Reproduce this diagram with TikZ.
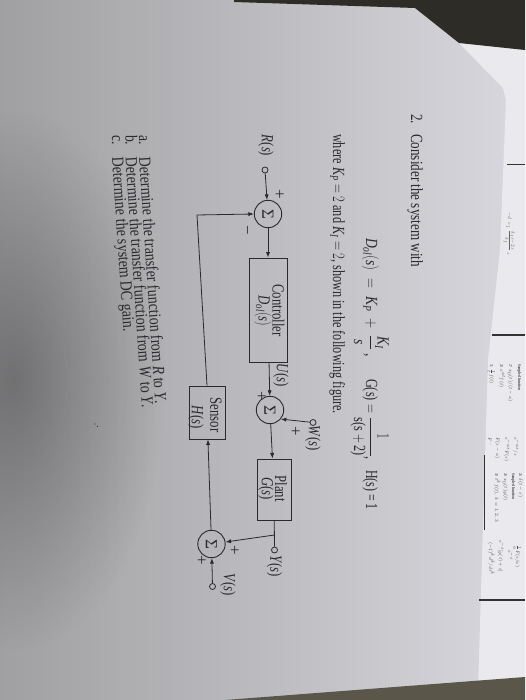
\documentclass[tikz,border=0pt]{standalone}
\usepackage{amsmath}
\usepackage{fontspec}
\setmainfont{Liberation Serif}
\usetikzlibrary{arrows.meta,fadings}
\definecolor{ink}{RGB}{42,42,46}
\definecolor{pageL}{RGB}{160,160,162}
\definecolor{pageR}{RGB}{216,216,222}
\definecolor{sheetc}{RGB}{234,234,238}
\definecolor{deskA}{RGB}{46,44,38}
\definecolor{deskB}{RGB}{90,86,74}
\newcommand{\ti}[1]{\textit{#1}}
\tikzfading[name=softblob, inner color=transparent!0, outer color=transparent!100]
\begin{document}
\begin{tikzpicture}[x=1pt,y=1pt,
  txt/.style={font=\fontsize{17}{20}\selectfont, text=ink, inner sep=0pt},
  tiny/.style={font=\fontsize{4.4}{5}\selectfont, text=black!70, inner sep=0pt, anchor=base west, xscale=0.8},
  blk/.style={draw=ink, line width=0.9pt, rectangle, inner sep=0pt},
  sumn/.style={draw=ink, line width=0.9pt, circle, minimum size=27.4pt, inner sep=0pt, font=\fontsize{17}{20}\selectfont, text=ink},
  port/.style={draw=ink, line width=0.8pt, circle, minimum size=6pt, inner sep=0pt},
  wire/.style={draw=ink, line width=0.8pt},
  sig/.style={wire, -{Latex[length=5.5pt,width=4.2pt]}},
  rulel/.style={draw=black!80, line width=0.7pt}
]
\useasboundingbox (0,0) rectangle (525,-700);
% ---- photo background ----
\shade[left color=pageL, right color=pageR] (0,0) rectangle (525,-700);
\fill[black, opacity=0.3, path fading=softblob] (15,-380) ellipse (150 and 270);
\fill[sheetc] (459,-43) -- (503,-88) -- (506,-100) -- (500,-250) -- (488,-360) -- (478,-690) -- (525,-690) -- (525,-50) -- cycle;
\fill[deskA] (234,0) -- (525,0) -- (525,-50) -- (459,-43) -- (415,-8) -- (234,-2) -- cycle;
\fill[deskB] (225,-700) -- (525,-677) -- (525,-700) -- cycle;

\begin{scope}[rotate=-90, transform shape]
% ---- text ----
\node[txt, anchor=base west, xscale=0.77] (num) at (114,411) {2.};
\node[txt, anchor=base west, xscale=0.77] (intro) at (134,411) {Consider the system with};
\node[txt, anchor=base west, xscale=0.8] (eqD) at (238,366) {$\ti{D}_{\ti{ol}}(\ti{s})\;=\;\ti{K}_{\ti{P}}\;+\;\dfrac{\ti{K}_{\ti{I}}}{\ti{s}}$\hspace{0.3em},};
\node[txt, anchor=base west, xscale=0.72] (eqG) at (379,366) {$\text{G(s)} = \dfrac{1}{\text{s(s}+\text{2)}}$,};
\node[txt, anchor=base west, xscale=0.7] (eqH) at (470,366) {H(s) = 1};
\node[txt, anchor=base west, xscale=0.72] (where) at (134,333) {where $\ti{K}_{\ti{P}} = 2$ and $\ti{K}_{\ti{I}} = 2$, shown in the following figure.};

\node[txt, anchor=base west, xscale=0.8] (qa0) at (135,139) {a.};
\node[txt, anchor=base west, rotate=3.8, xscale=0.82] (qa) at (157,139) {Determine the transfer function from \ti{R} to \ti{Y}.};
\node[txt, anchor=base west, xscale=0.8] (qb0) at (135,125.5) {b.};
\node[txt, anchor=base west, rotate=3.8, xscale=0.82] (qb) at (157,125.5) {Determine the transfer function from \ti{W} to \ti{Y}.};
\node[txt, anchor=base west, xscale=0.8] (qc0) at (135,112) {c.};
\node[txt, anchor=base west, rotate=3.8, xscale=0.82] (qc) at (157,112) {Determine the system DC gain.};

% ---- block diagram ----
\node[txt, xscale=0.75] (rlab) at (145.6,266) {\ti{R}(\ti{s})};
\node[port] (rin) at (170,265) {};
\node[sumn] (s1) at (214,268) {Σ};
\node[txt] (p1) at (194,279) {+};
\node[txt] (m1) at (230,245) {−};
\node[blk, minimum width=104pt, minimum height=38pt] (ctrl) at (310,268) {};
\node[txt, xscale=0.75] (ctrlA) at (310.5,278.5) {Controller};
\node[txt, xscale=0.75] (ctrlB) at (311,263) {$\ti{D}_{\ti{ol}}(\ti{s})$};
\node[txt, xscale=0.75] (ulab) at (375.5,281) {\ti{U}(\ti{s})};
\node[txt] (p2) at (396,261) {+};
\node[sumn] (s2) at (410,270) {Σ};
\node[port] (win) at (422.5,313) {};
\node[txt, xscale=0.75] (wlab) at (438.5,313) {\ti{W}(\ti{s})};
\node[txt] (p3) at (431,295) {+};
\node[blk, minimum width=61pt, minimum height=34pt] (plant) at (489.5,274) {};
\node[txt, xscale=0.75] (plA) at (488.5,281) {Plant};
\node[txt, xscale=0.75] (plB) at (488.5,266) {\ti{G}(\ti{s})};
\node[port] (yout) at (550,274.5) {};
\node[txt, xscale=0.75] (ylab) at (566,274.5) {\ti{Y}(\ti{s})};
\coordinate (br) at (535,274.5);
\node[sumn] (s3) at (544,211.5) {Σ};
\node[txt] (p4) at (550,234) {+};
\node[txt] (p5) at (560,201) {+};
\node[port] (vin) at (586.5,212.5) {};
\node[txt, xscale=0.75] (vlab) at (584.5,228) {\ti{V}(\ti{s})};
\node[blk, minimum width=53pt, minimum height=36pt] (sens) at (412.5,207) {};
\node[txt, xscale=0.75] (sA) at (415,216) {Sensor};
\node[txt, xscale=0.75] (sB) at (417,196) {\ti{H}(\ti{s})};
\coordinate (fbc) at (215,197);

\draw[sig] (rin) -- (s1);
\draw[sig] (s1) -- (ctrl);
\draw[sig] (ctrl) -- (s2);
\draw[sig] (win) -- (s2.50);
\draw[sig] (s2) -- (plant);
\draw[wire] (plant) -- (yout);
\draw[sig] (br) -- (s3);
\draw[sig] (vin) -- (s3);
\draw[sig] (s3) -- (sens);
\draw[sig] (sens.west) -- (fbc) -- (s1.south);

% ---- specks ----
\fill[ink] (424,95) circle (0.7);
\fill[ink] (426.5,97.5) circle (0.7);

% ---- table sheet fragments ----
\draw[rulel] (164,507) -- (164,525);
\draw[rulel, line width=1.6pt] (335,492) -- (335,525);
\draw[rulel, line width=1.2pt] (600,479) -- (600,525);
\draw[rulel, line width=0.5pt] (455,484) -- (530,484);
\node[tiny] (ta1) at (364,518) {\textbf{Sampled function}};
\node[tiny] (ta2) at (364,509) {27\ \ $x_0(t)/(t-a)$};
\node[tiny] (ta3) at (364,500) {29\ \ $e^{at}f(t)$};
\node[tiny] (ta4) at (364,490) {31\ \ $\frac{1}{t}f(t)$};
\node[tiny] (tb1) at (437,514) {$e^{-as}/s$};
\node[tiny] (tb2) at (437,505) {$e^{-as}F(s)$};
\node[tiny] (tb3) at (437,496) {$F(s-a)$};
\node[tiny] (tb4) at (437,488) {$F^{\ldots}$};
\node[tiny] (tc1) at (473,519) {26\ \ $\delta(t-\varepsilon)$};
\node[tiny] (tc2) at (473,512) {\textbf{Sampled function}};
\node[tiny] (tc3) at (473,504) {28\ \ $x_0(t)g(t)$};
\node[tiny] (tc4) at (473,495) {30\ \ $t^kf(t),\ k=1,2,3$};
\node[tiny] (td1) at (545,516) {$\frac{1}{a}F(s/a)$};
\node[tiny] (td2) at (550,508) {$e^{-\varepsilon}$};
\node[tiny] (td3) at (540,499) {$e^{-\varepsilon}[g(t)+\varepsilon]$};
\node[tiny] (td4) at (542,489) {$(-1)^k d^k/ds^k$};
\node[tiny, text=black!60] (scr) at (212,508) {$-d\;\; c_1\;\frac{k_Is-2s}{k_I}\;{}_{s}$};
\end{scope}
\end{tikzpicture}
\end{document}
